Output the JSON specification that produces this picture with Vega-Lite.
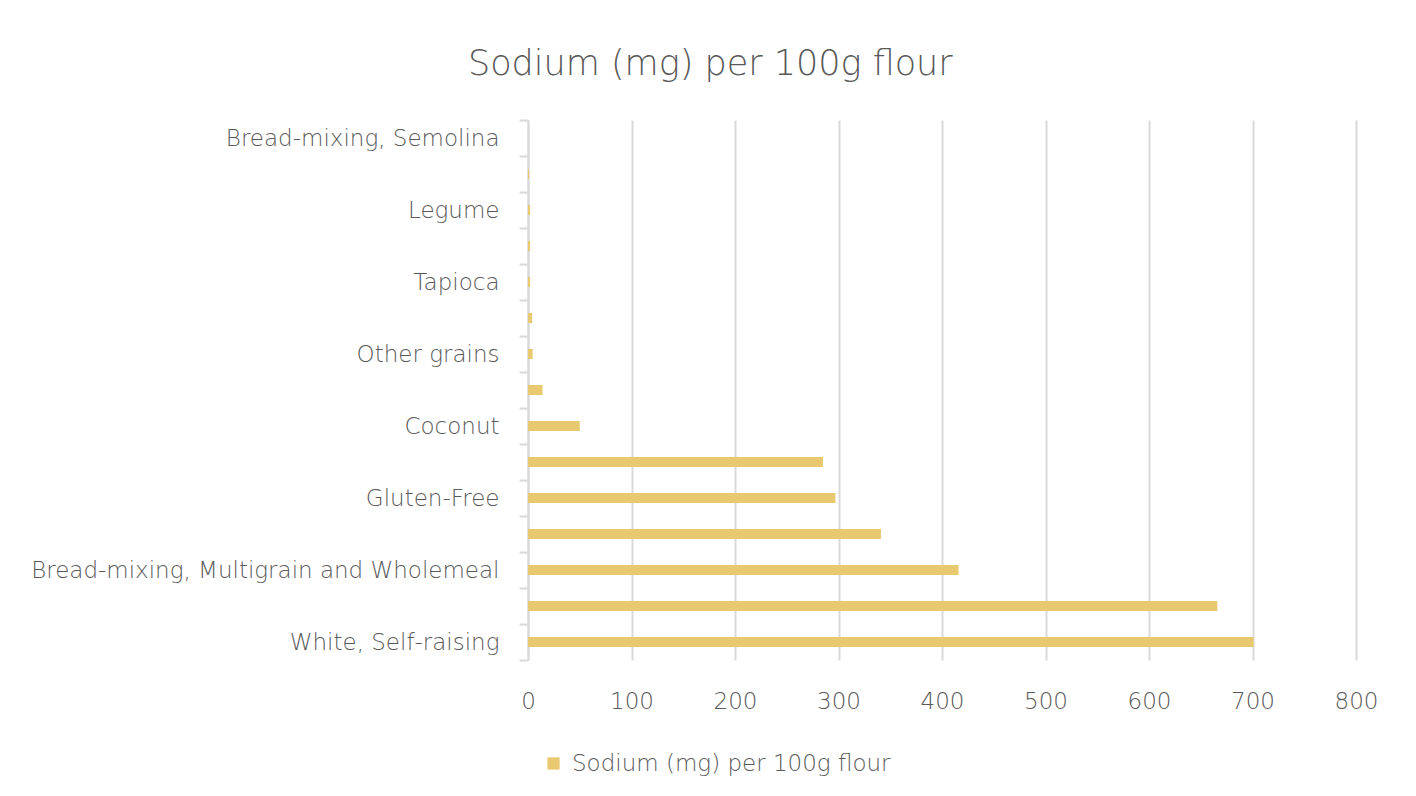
{
  "$schema": "https://vega.github.io/schema/vega-lite/v6.json",
  "autosize": {"type": "none"},
  "width": 828,
  "height": 540,
  "padding": {"left": 528, "top": 120, "right": 60, "bottom": 136},
  "background": "#ffffff",
  "title": {
    "text": "Sodium (mg) per 100g flour",
    "fontSize": 35,
    "font": "DejaVu Sans",
    "fontWeight": 200,
    "color": "#595959",
    "anchor": "middle",
    "frame": "bounds",
    "offset": 27,
    "dx": 6
  },
  "data": {
    "values": [
      {"flour": "Bread-mixing, Semolina", "sodium": 0},
      {"flour": "Almond", "sodium": 1},
      {"flour": "Legume", "sodium": 2},
      {"flour": "Rice", "sodium": 2},
      {"flour": "Tapioca", "sodium": 2},
      {"flour": "Wholemeal, Plain", "sodium": 4},
      {"flour": "Other grains", "sodium": 4.5},
      {"flour": "Spelt", "sodium": 14},
      {"flour": "Coconut", "sodium": 50},
      {"flour": "Bread-mixing, White", "sodium": 285},
      {"flour": "Gluten-Free", "sodium": 297},
      {"flour": "Wholemeal, Self-raising", "sodium": 341},
      {"flour": "Bread-mixing, Multigrain and Wholemeal", "sodium": 416},
      {"flour": "Plain, Self-raising blend", "sodium": 666},
      {"flour": "White, Self-raising", "sodium": 701}
    ]
  },
  "mark": {"type": "bar", "height": {"band": 0.28}},
  "encoding": {
    "y": {
      "field": "flour",
      "type": "nominal",
      "sort": null,
      "scale": {"paddingInner": 0, "paddingOuter": 0},
      "axis": {
        "title": null,
        "tickBand": "extent",
        "tickSize": 9,
        "tickColor": "#d9d9d9",
        "tickWidth": 2,
        "domain": true,
        "domainColor": "#d9d9d9",
        "domainWidth": 2,
        "labelPadding": 20,
        "labelFontSize": 23,
        "labelFont": "DejaVu Sans",
        "labelFontWeight": 200,
        "labelColor": "#595959",
        "labelLimit": 600,
        "labelExpr": "indexof(['Bread-mixing, Semolina','Legume','Tapioca','Other grains','Coconut','Gluten-Free','Bread-mixing, Multigrain and Wholemeal','White, Self-raising'], datum.value) >= 0 ? datum.label : ''"
      }
    },
    "x": {
      "field": "sodium",
      "type": "quantitative",
      "scale": {"domain": [0, 800], "nice": false},
      "axis": {
        "title": null,
        "values": [0, 100, 200, 300, 400, 500, 600, 700, 800],
        "grid": true,
        "gridColor": "#d9d9d9",
        "gridWidth": 2,
        "domain": false,
        "ticks": false,
        "labelFlush": false,
        "labelPadding": 30,
        "labelFontSize": 23,
        "labelFont": "DejaVu Sans",
        "labelFontWeight": 200,
        "labelColor": "#595959"
      }
    },
    "color": {
      "datum": "Sodium (mg) per 100g flour",
      "scale": {"range": ["#E9C96F"]},
      "legend": {
        "title": null,
        "orient": "none",
        "legendX": 14,
        "legendY": 632,
        "symbolType": "square",
        "symbolSize": 150,
        "symbolStrokeWidth": 0,
        "labelFontSize": 23,
        "labelFont": "DejaVu Sans",
        "labelFontWeight": 200,
        "labelColor": "#595959",
        "labelOffset": 7,
        "labelLimit": 600
      }
    }
  },
  "config": {
    "view": {"stroke": null}
  }
}
